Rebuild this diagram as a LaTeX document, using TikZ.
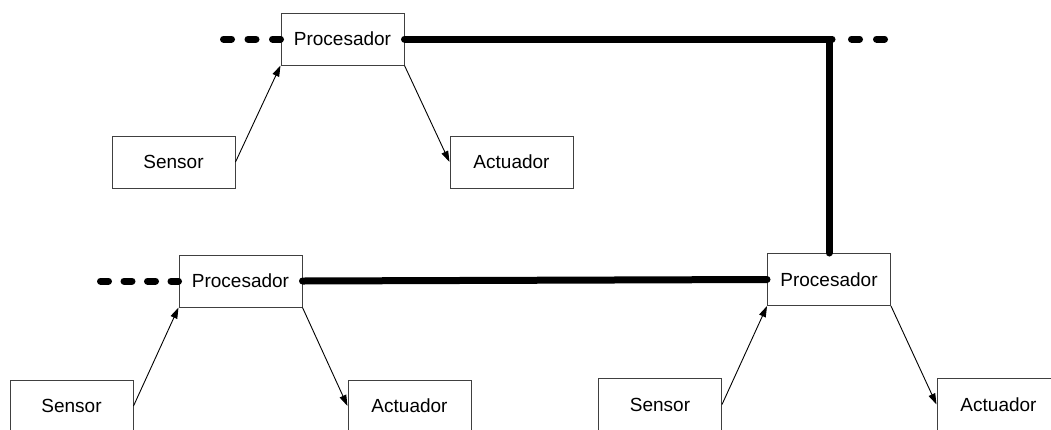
\documentclass[tikz,border=0pt]{standalone}
\usepackage{fontspec}
\setmainfont{Liberation Sans}
\usetikzlibrary{arrows.meta}
\begin{document}
\begin{tikzpicture}[x=1pt,y=-1pt,
  unit/.style={draw=black!75,line width=1pt,fill=white,minimum width=123pt,minimum height=52pt,
    inner sep=0pt,font=\fontsize{19}{22}\selectfont},
  sig/.style={line width=0.9pt,-{Triangle[length=11pt,width=7pt]}},
  bus/.style={line width=7pt,line cap=round,line join=round},
  busdash/.style={line width=7pt,line cap=round,dash pattern=on 8pt off 16.5pt}]
\clip (0,0) rectangle (1051,429);
\useasboundingbox (0,0) rectangle (1051,429);

% upper cell
\node[unit] (p1) at (342.5,39) {Procesador};
\node[unit] (s1) at (173.5,162) {Sensor};
\node[unit] (a1) at (511.5,162) {Actuador};

% lower left cell
\node[unit] (p2) at (240.5,281) {Procesador};
\node[unit] (s2) at (71.5,406) {Sensor};
\node[unit] (a2) at (409.5,406) {Actuador};

% lower right cell
\node[unit] (p3) at (829,279.5) {Procesador};
\node[unit] (s3) at (660,404.5) {Sensor};
\node[unit] (a3) at (998.5,404.5) {Actuador};

% sensor -> processor -> actuator
\draw[sig] (s1.east) -- (p1.south west);
\draw[sig] (p1.south east) -- (a1.west);
\draw[sig] (s2.east) -- (p2.south west);
\draw[sig] (p2.south east) -- (a2.west);
\draw[sig] (s3.east) -- (p3.south west);
\draw[sig] (p3.south east) -- (a3.west);

% network bus
\coordinate (j) at (829,39);
\coordinate (jend) at (832,39);
\coordinate (l1) at (223.5,39);
\coordinate (l2) at (100.5,281);
\coordinate (r1) at (851.5,39);
\coordinate (r2) at (884.5,39);

\draw[bus] (p1.east) -- (j) -- (p3.north);
\draw[bus] (j) -- (jend);
\draw[bus] (p2.east) -- (p3.west);
\draw[busdash] (l1) -- (p1.west);
\draw[busdash,dash pattern=on 8pt off 15.5pt] (l2) -- (p2.west);
\draw[busdash,dash pattern=on 8pt off 17pt] (r1) -- (r2);
\end{tikzpicture}
\end{document}
